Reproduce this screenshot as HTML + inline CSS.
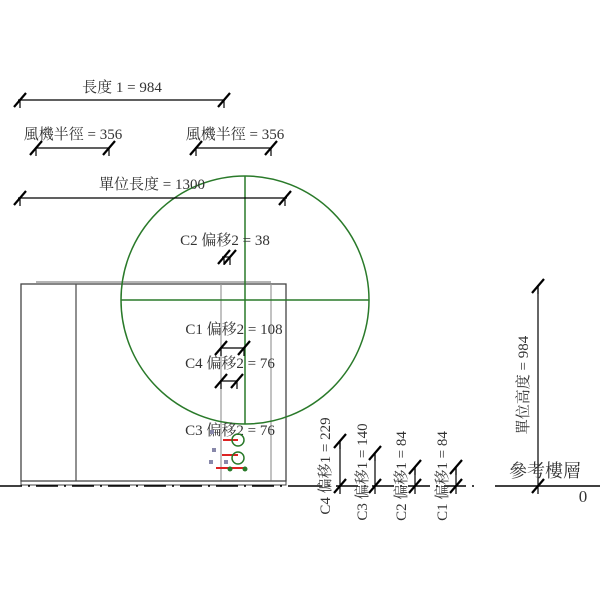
<!DOCTYPE html>
<html><head><meta charset="utf-8"><style>
body{margin:0;background:#fff}
svg{display:block}
text{font-family:"Liberation Serif","Noto Serif CJK SC",serif;font-size:15px;fill:#333}
</style></head><body>
<svg width="600" height="600" viewBox="0 0 600 600">
<defs>
<g id="tk"><line x1="-6" y1="7" x2="6" y2="-7" stroke="#000" stroke-width="2.2"/><line x1="0" y1="0" x2="0" y2="8" stroke="#000" stroke-width="1.2"/></g>
</defs>
<rect x="21" y="284" width="265" height="197" fill="none" stroke="#444" stroke-width="1.3"/>
<line x1="36" y1="282" x2="271" y2="282" stroke="#888" stroke-width="1.2"/>
<line x1="76" y1="284" x2="76" y2="481" stroke="#555" stroke-width="1.3"/>
<line x1="221" y1="284" x2="221" y2="481" stroke="#999" stroke-width="1.2"/>
<line x1="271" y1="284" x2="271" y2="481" stroke="#999" stroke-width="1.2"/>
<rect x="21" y="481" width="265" height="4" fill="none" stroke="#444" stroke-width="1"/>
<line x1="0" y1="486" x2="300" y2="486" stroke="#000" stroke-width="1.5" stroke-dasharray="22,6,2,6"/>
<line x1="300" y1="486" x2="480" y2="486" stroke="#000" stroke-width="1.5" stroke-dasharray="22,6,2,6"/>
<line x1="495" y1="486" x2="600" y2="486" stroke="#000" stroke-width="1.5"/>
<circle cx="245" cy="300" r="124" fill="none" stroke="#2a7a2a" stroke-width="1.5"/>
<line x1="245" y1="176" x2="245" y2="424" stroke="#2a7a2a" stroke-width="1.5"/>
<line x1="121" y1="300" x2="369" y2="300" stroke="#2a7a2a" stroke-width="1.5"/>
<line x1="18" y1="100" x2="225" y2="100" stroke="#000" stroke-width="1.2"/>
<use href="#tk" x="20" y="100"/><use href="#tk" x="224" y="100"/>
<text x="122" y="92" text-anchor="middle">長度 1 = 984</text>
<line x1="35" y1="148" x2="110" y2="148" stroke="#000" stroke-width="1.2"/>
<use href="#tk" x="36" y="148"/><use href="#tk" x="109" y="148"/>
<text x="73" y="139" text-anchor="middle">風機半徑 = 356</text>
<line x1="195" y1="148" x2="272" y2="148" stroke="#000" stroke-width="1.2"/>
<use href="#tk" x="196" y="148"/><use href="#tk" x="271" y="148"/>
<text x="235" y="139" text-anchor="middle">風機半徑 = 356</text>
<line x1="18" y1="198" x2="287" y2="198" stroke="#000" stroke-width="1.2"/>
<use href="#tk" x="20" y="198"/><use href="#tk" x="285" y="198"/>
<text x="152" y="189" text-anchor="middle">單位長度 = 1300</text>
<text x="225" y="245" text-anchor="middle">C2 偏移2 = 38</text>
<line x1="222" y1="257" x2="230" y2="257" stroke="#000" stroke-width="1.2"/>
<use href="#tk" x="224" y="257"/><use href="#tk" x="230" y="257"/>
<text x="234" y="334" text-anchor="middle">C1 偏移2 = 108</text>
<line x1="220" y1="348" x2="244" y2="348" stroke="#000" stroke-width="1.2"/>
<use href="#tk" x="221" y="348"/><use href="#tk" x="244" y="348"/>
<text x="230" y="368" text-anchor="middle">C4 偏移2 = 76</text>
<line x1="220" y1="381" x2="237" y2="381" stroke="#000" stroke-width="1.2"/>
<use href="#tk" x="221" y="381"/><use href="#tk" x="237" y="381"/>
<text x="230" y="435" text-anchor="middle">C3 偏移2 = 76</text>
<g stroke="#d22" stroke-width="2">
<line x1="223" y1="440" x2="238" y2="440"/><line x1="222" y1="455" x2="238" y2="455"/>
<line x1="216" y1="468" x2="246" y2="468"/>
</g>
<circle cx="238" cy="440" r="6" fill="none" stroke="#2a7a2a" stroke-width="1.5"/>
<circle cx="238" cy="458" r="6" fill="none" stroke="#2a7a2a" stroke-width="1.5"/>
<circle cx="230" cy="469" r="2.5" fill="#2a7a2a"/><circle cx="245" cy="469" r="2.5" fill="#2a7a2a"/>
<g fill="#88a">
<rect x="210" y="430" width="4" height="4"/><rect x="212" y="448" width="4" height="4"/><rect x="209" y="460" width="4" height="4"/><rect x="224" y="460" width="4" height="4"/>
</g>
<line x1="538" y1="285" x2="538" y2="486" stroke="#000" stroke-width="1.2"/>
<use href="#tk" x="538" y="286"/><use href="#tk" x="538" y="486"/>
<text transform="translate(528,385) rotate(-90)" text-anchor="middle">單位高度 = 984</text>
<text x="545" y="477" text-anchor="middle" style="font-size:18px">參考樓層</text>
<text x="583" y="502" text-anchor="middle" style="font-size:17px">0</text>
<line x1="340" y1="441" x2="340" y2="486" stroke="#000" stroke-width="1.2"/>
<use href="#tk" x="340" y="441"/><use href="#tk" x="340" y="486"/>
<text transform="translate(330,466) rotate(-90)" text-anchor="middle">C4 偏移1 = 229</text>
<line x1="375" y1="453" x2="375" y2="486" stroke="#000" stroke-width="1.2"/>
<use href="#tk" x="375" y="453"/><use href="#tk" x="375" y="486"/>
<text transform="translate(367,472) rotate(-90)" text-anchor="middle">C3 偏移1 = 140</text>
<line x1="415" y1="467" x2="415" y2="486" stroke="#000" stroke-width="1.2"/>
<use href="#tk" x="415" y="467"/><use href="#tk" x="415" y="486"/>
<text transform="translate(406,476) rotate(-90)" text-anchor="middle">C2 偏移1 = 84</text>
<line x1="456" y1="467" x2="456" y2="486" stroke="#000" stroke-width="1.2"/>
<use href="#tk" x="456" y="467"/><use href="#tk" x="456" y="486"/>
<text transform="translate(447,476) rotate(-90)" text-anchor="middle">C1 偏移1 = 84</text>
</svg>
</body></html>
